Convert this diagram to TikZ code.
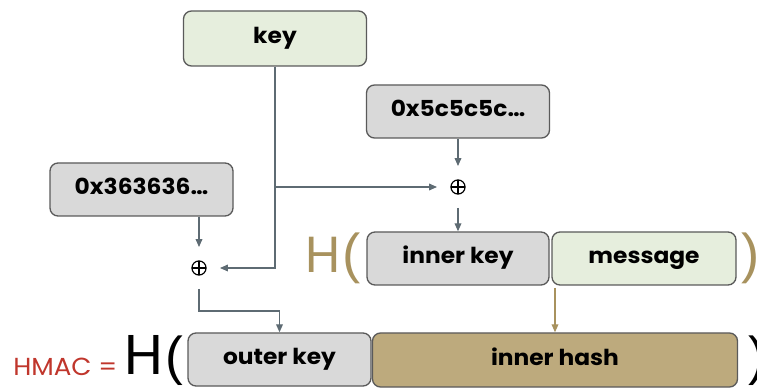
\documentclass[tikz,border=0pt]{standalone}
\usepackage{fontspec}
\setmainfont{Poppins}
\newfontfamily\lblfont{Poppins}[FakeStretch=1.06]
\newfontfamily\parenfont{Liberation Sans}
\usetikzlibrary{arrows.meta}
\definecolor{gfill}{HTML}{E6EEDD}
\definecolor{grfill}{HTML}{D9D9D9}
\definecolor{bordc}{HTML}{5A5A5A}
\definecolor{tanfill}{HTML}{BDAA7D}
\definecolor{goldc}{HTML}{A8925E}
\definecolor{hred}{HTML}{C0362C}
\definecolor{linec}{HTML}{5E6B73}
\begin{document}
\begin{tikzpicture}[x=0.75pt,y=-0.75pt,
  box/.style={draw=bordc, line width=1pt, rounded corners=6pt, minimum height=39.75pt,
    inner sep=0pt, text height=0.86em, text depth=0.1em,
    font=\lblfont\fontsize{16.5}{18}\selectfont\bfseries, text=black},
  greybox/.style={box, fill=grfill},
  greenbox/.style={box, fill=gfill},
  tanbox/.style={box, fill=tanfill},
  xor/.style={circle, minimum size=31pt, inner sep=0pt,
    path picture={
      \draw[line width=0.9pt, black] (path picture bounding box.center) circle (5.3pt);
      \draw[line width=0.9pt, black] ([xshift=-5.3pt]path picture bounding box.center) -- ([xshift=5.3pt]path picture bounding box.center);
      \draw[line width=0.9pt, black] ([yshift=-5.3pt]path picture bounding box.center) -- ([yshift=5.3pt]path picture bounding box.center);
    }},
  conn/.style={draw=linec, line width=1pt},
  arr/.style={conn, -{Triangle[length=6pt,width=5pt]}},
  garr/.style={draw=goldc, line width=1pt, -{Triangle[length=6pt,width=5pt]}},
  btext/.style={anchor=base west, inner sep=0pt},
]
\useasboundingbox (0,0) rectangle (757,388);

% boxes
\node[greenbox, minimum width=137.25pt, minimum height=41.25pt] (key) at (275,38.5) {key};
\node[greybox, minimum width=137.25pt] (k5) at (458,111.5) {0x5c5c5c…};
\node[greybox, minimum width=137.25pt] (k3) at (141.5,189.5) {0x363636…};
\node[greybox, minimum width=136.5pt] (ik) at (458,258.5) {inner key};
\node[greenbox, minimum width=138pt] (msg) at (644,258.5) {message};
\node[greybox, minimum width=137.25pt] (ok) at (279.5,359.5) {outer key};
\node[tanbox, minimum width=273.75pt, minimum height=40.5pt] (ih) at (555,360) {inner hash};

% xor nodes
\node[xor] (xi) at (458,187) {};
\node[xor] (xl) at (199,268) {};

% texts
\node[btext, text=hred, font=\lblfont\fontsize{18.5}{19}\selectfont] (hmac) at (13,375) {HMAC\kern5pt=};
\node[btext, text=black, font=\fontsize{42}{42}\selectfont] (hb) at (124,374) {H\kern2pt{\parenfont\fontsize{40}{40}\selectfont(}};
\node[btext, text=black, font=\parenfont\fontsize{40}{40}\selectfont] (hbc) at (748,374) {)};
\node[btext, text=goldc, font=\fontsize{38}{38}\selectfont] (hg) at (305,273) {H\kern2pt{\parenfont\fontsize{41}{41}\selectfont(}};
\node[btext, text=goldc, font=\parenfont\fontsize{41}{41}\selectfont] (hgc) at (741,273) {)};

% connectors
\draw[arr] (k5.south) -- (xi.north);
\draw[arr] (xi.south) -- (xi.south |- ik.north);
\draw[arr] (key.south) |- (xl.east);
\draw[arr] (key.south |- xi) -- (xi.west);
\draw[arr] (xl |- k3.south) -- (xl.north);
\draw[arr] (xl.south) -- ++(0,22) -| (ok.north);
\coordinate (hj) at (555,288);
\draw[garr] (hj) -- (ih.north);
\end{tikzpicture}
\end{document}
